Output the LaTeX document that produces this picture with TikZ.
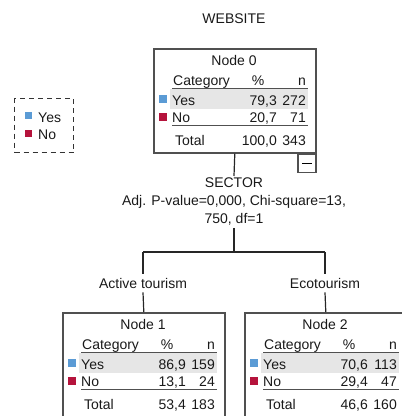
\documentclass[tikz,border=0pt]{standalone}
\usepackage{fontspec}
\setmainfont{Liberation Sans}

\definecolor{yesblue}{HTML}{5B9BD5}
\definecolor{nored}{HTML}{B5133C}
\definecolor{rowgray}{HTML}{E6E6E6}
\definecolor{boxgray}{HTML}{505050}

\tikzset{
  txt/.style={inner sep=0pt, text=black!90, font=\fontsize{14}{18}\selectfont},
  nodebox/.style={draw=boxgray, line width=1.6pt, minimum width=162pt,
    minimum height=104pt, inner sep=0pt, anchor=north west},
  sepline/.style={draw=boxgray, line width=1.2pt},
  branch/.style={draw=black!85, line width=1.2pt},
}

% one tree node: index, x, y, yes %, yes n, no %, no n, total %, total n
\newcommand{\nodetable}[9]{%
  \node[nodebox] (n#1) at (#2,#3) {};
  \begin{scope}[shift={(#2,#3)}]
    \fill[rowgray] (17,41) rectangle (155,61);
    \fill[yesblue] (6,47) rectangle (14,55);
    \fill[nored] (6,65) rectangle (14,73);
    \node[txt, anchor=base] (n#1title) at (81,17) {Node #1};
    \node[txt, anchor=base west] (n#1cat) at (20,37) {Category};
    \node[txt, anchor=base] (n#1pct) at (105,37) {\%};
    \node[txt, anchor=base east] (n#1n) at (153,37) {n};
    \draw[sepline] (19,40.5) -- (155,40.5);
    \node[txt, anchor=base west] (n#1yes) at (19,57) {Yes};
    \node[txt, anchor=base east] (n#1yesp) at (124,57) {#4};
    \node[txt, anchor=base east] (n#1yesn) at (153,57) {#5};
    \node[txt, anchor=base west] (n#1no) at (19,74.5) {No};
    \node[txt, anchor=base east] (n#1nop) at (124,74.5) {#6};
    \node[txt, anchor=base east] (n#1non) at (153,74.5) {#7};
    \draw[sepline, line width=0.9pt, double=white, double distance=0.9pt] (19,78) -- (155,78);
    \node[txt, anchor=base west] (n#1tot) at (22,97) {Total};
    \node[txt, anchor=base east] (n#1totp) at (124,97) {#8};
    \node[txt, anchor=base east] (n#1totn) at (153,97) {#9};
  \end{scope}}

\begin{document}
\begin{tikzpicture}[x=1pt, y=-1pt]
  \clip (0,0) rectangle (402,416);

  \node[txt, anchor=base] (target) at (234,23) {WEBSITE};

  % legend
  \node[draw=black!80, line width=1.2pt, dash pattern=on 5pt off 4pt,
    minimum width=59pt, minimum height=54pt, inner sep=0pt, anchor=north west] (legend) at (14,98) {};
  \fill[yesblue] (25,112) rectangle (32,119);
  \fill[nored] (25,130) rectangle (32,137);
  \node[txt, anchor=base west] (legyes) at (38,122) {Yes};
  \node[txt, anchor=base west] (legno) at (38,139) {No};

  % tree
  \nodetable{0}{153}{48}{79,3}{272}{20,7}{71}{100,0}{343}
  \node[draw=boxgray, line width=1.2pt, minimum width=18pt, minimum height=18pt,
    inner sep=0pt, anchor=north east] (n0tog) at (n0.south east) {\rule[-0.6pt]{10pt}{1.2pt}};

  \node[txt, inner sep=2pt, align=center, anchor=north] (sector) at (234,176)
    {SECTOR\\Adj. P-value=0,000, Chi-square=13,\\750, df=1};

  \coordinate (forkc) at (234,252);
  \coordinate (forkl) at (143,252);
  \coordinate (forkr) at (325,252);

  \node[txt, inner sep=4pt, anchor=base] (actlbl) at (143,288) {Active tourism};
  \node[txt, inner sep=4pt, anchor=base] (ecolbl) at (325,288) {Ecotourism};

  \nodetable{1}{62}{312}{86,9}{159}{13,1}{24}{53,4}{183}
  \nodetable{2}{244}{312}{70,6}{113}{29,4}{47}{46,6}{160}

  \draw[branch] (n0.south) -- (sector.north);
  \draw[branch] (sector.south) -- (forkc);
  \draw[branch] (forkl) -- (forkr);
  \draw[branch] (forkl) -- (actlbl.north);
  \draw[branch] (forkr) -- (ecolbl.north);
  \draw[branch] (actlbl.south) -- (n1.north);
  \draw[branch] (ecolbl.south) -- (n2.north);
\end{tikzpicture}
\end{document}
